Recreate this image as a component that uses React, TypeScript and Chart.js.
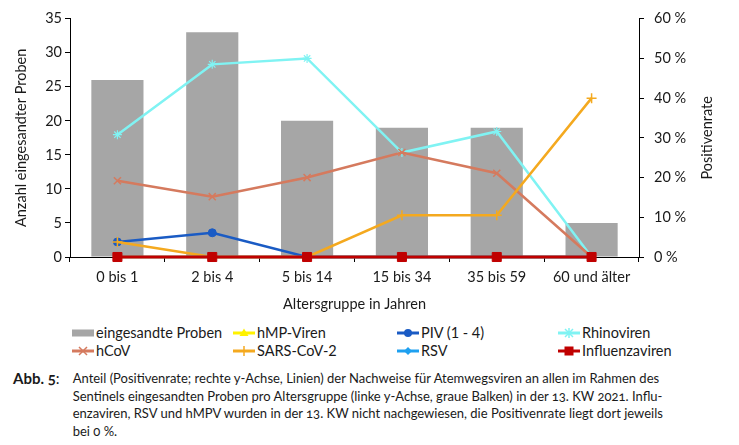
import React, { useEffect, useRef } from "react";
import { Chart, registerables } from "chart.js";

Chart.register(...registerables);

const categories = ["0 bis 1", "2 bis 4", "5 bis 14", "15 bis 34", "35 bis 59", "60 und älter"];
const probenCounts = [26, 33, 20, 19, 19, 5];
const hmpRate = [0, 0, 0, 0, 0, 0];
const pivRate = [3.8, 6.1, 0, 0, 0, 0];
const rhinoRate = [30.8, 48.5, 50, 26.3, 31.6, 0];
const hcovRate = [19.2, 15.2, 20, 26.3, 21.1, 0];
const sarsRate = [3.8, 0, 0, 10.5, 10.5, 40];
const rsvRate = [0, 0, 0, 0, 0, 0];
const influenzaRate = [0, 0, 0, 0, 0, 0];

const leftTicks = [0, 5, 10, 15, 20, 25, 30, 35];
const rightTicks = [0, 10, 20, 30, 40, 50, 60];

const leftTitle = "Anzahl eingesandter Proben";
const rightTitle = "Positivenrate";
const xTitle = "Altersgruppe in Jahren";

const captionLabel = "Abb. 5";
const captionLines = [
  "Anteil (Positivenrate; rechte y-Achse, Linien) der Nachweise für Atemwegsviren an allen im Rahmen des",
  "Sentinels eingesandten Proben pro Altersgruppe (linke y-Achse, graue Balken) in der 13. KW 2021. Influ-",
  "enzaviren, RSV und hMPV wurden in der 13. KW nicht nachgewiesen, die Positivenrate liegt dort jeweils",
  "bei 0 %.",
];

const C = {
  bar: "#A6A6A6",
  hmp: "#FFF200",
  piv: "#1A5BC4",
  rhino: "#80F3F3",
  hcov: "#D57A5E",
  sars: "#F4A91F",
  rsv: "#1EA0F0",
  flu: "#C00000",
};

const FONT = 'Lato, "Open Sans", sans-serif';

type LegendItem = { label: string; kind: string; color: string };
const legendRows: LegendItem[][] = [
  [
    { label: "eingesandte Proben", kind: "box", color: C.bar },
    { label: "hMP-Viren", kind: "triangle", color: C.hmp },
    { label: "PIV (1 - 4)", kind: "circle", color: C.piv },
    { label: "Rhinoviren", kind: "star", color: C.rhino },
  ],
  [
    { label: "hCoV", kind: "x", color: C.hcov },
    { label: "SARS-CoV-2", kind: "plus", color: C.sars },
    { label: "RSV", kind: "diamond", color: C.rsv },
    { label: "Influenzaviren", kind: "square", color: C.flu },
  ],
];

function Icon({ kind, color }: { kind: string; color: string }) {
  const w = 22, h = 12, cx = 11, cy = 6;
  let marker: React.ReactNode = null;
  if (kind === "box") {
    return (
      <svg width={w} height={h} style={{ display: "block" }}>
        <rect x={0} y={2.5} width={22} height={7} fill={color} />
      </svg>
    );
  }
  if (kind === "triangle") marker = <polygon points={`${cx},${cy - 4.5} ${cx + 4.5},${cy + 3} ${cx - 4.5},${cy + 3}`} fill={color} />;
  if (kind === "circle") marker = <circle cx={cx} cy={cy} r={4} fill={color} />;
  if (kind === "diamond") marker = <polygon points={`${cx},${cy - 4} ${cx + 4},${cy} ${cx},${cy + 4} ${cx - 4},${cy}`} fill={color} />;
  if (kind === "square") marker = <rect x={cx - 4.5} y={cy - 4.5} width={9} height={9} fill={color} />;
  if (kind === "x") marker = <path d={`M${cx - 4},${cy - 4}L${cx + 4},${cy + 4}M${cx + 4},${cy - 4}L${cx - 4},${cy + 4}`} stroke={color} strokeWidth={1.5} />;
  if (kind === "plus") marker = <path d={`M${cx},${cy - 5}L${cx},${cy + 5}`} stroke={color} strokeWidth={1.5} />;
  if (kind === "star") marker = <path d={`M${cx - 4},${cy - 4}L${cx + 4},${cy + 4}M${cx + 4},${cy - 4}L${cx - 4},${cy + 4}M${cx},${cy - 5}L${cx},${cy + 5}`} stroke={color} strokeWidth={1.5} />;
  return (
    <svg width={w} height={h} style={{ display: "block" }}>
      <line x1={0} y1={cy} x2={22} y2={cy} stroke={color} strokeWidth={3} />
      {marker}
    </svg>
  );
}

const rightTitlePlugin = {
  id: "rightTitle",
  afterDraw(chart: any) {
    const ctx = chart.ctx;
    ctx.save();
    ctx.translate(707, (chart.chartArea.top + chart.chartArea.bottom) / 2);
    ctx.rotate(-Math.PI / 2);
    ctx.font = `14.5px ${FONT}`;
    ctx.fillStyle = "#1a1a1a";
    ctx.textAlign = "center";
    ctx.textBaseline = "middle";
    ctx.fillText(rightTitle, 0, 0);
    ctx.restore();
  },
};

export default function App() {
  const ref = useRef<HTMLCanvasElement | null>(null);

  useEffect(() => {
    if (!ref.current) return;
    const lineDs = (label: string, data: number[], color: string, style: string, radius: number, order: number, bw = 1.5, lw = 2.5) => ({
      type: "line" as const,
      label,
      data,
      yAxisID: "y1",
      borderColor: color,
      backgroundColor: color,
      borderWidth: lw,
      pointStyle: style,
      pointRadius: radius,
      pointBorderWidth: bw,
      pointBorderColor: color,
      pointBackgroundColor: color,
      tension: 0,
      clip: false,
      order,
    });
    const chart = new Chart(ref.current, {
      data: {
        labels: categories,
        datasets: [
          {
            type: "bar",
            label: "eingesandte Proben",
            data: probenCounts,
            backgroundColor: C.bar,
            yAxisID: "y",
            categoryPercentage: 1,
            barPercentage: 0.55,
            order: 10,
          } as any,
          lineDs("hMP-Viren", hmpRate, C.hmp, "triangle", 4, 6, 1),
          lineDs("PIV (1 - 4)", pivRate, C.piv, "circle", 4, 5, 1),
          lineDs("Rhinoviren", rhinoRate, C.rhino, "star", 4.5, 4, 1.2),
          lineDs("hCoV", hcovRate, C.hcov, "crossRot", 5, 3),
          lineDs("SARS-CoV-2", sarsRate, C.sars, "cross", 5, 2),
          lineDs("RSV", rsvRate, C.rsv, "rectRot", 4, 1, 1),
          lineDs("Influenzaviren", influenzaRate, C.flu, "rect", 6.4, 0, 1, 3),
        ],
      },
      options: {
        animation: false,
        responsive: false,
        maintainAspectRatio: false,
        layout: { padding: { top: 12, left: 0, right: 0, bottom: 0 } },
        font: { family: FONT },
        plugins: { legend: { display: false }, tooltip: { enabled: false } },
        scales: {
          x: {
            offset: true,
            grid: { display: true, drawOnChartArea: false, drawTicks: true, tickLength: 5, color: "#000", offset: true },
            border: { color: "#000", width: 1 },
            ticks: { color: "#1a1a1a", font: { family: FONT, size: 14.5 }, padding: 7, maxRotation: 0 },
            title: { display: true, text: xTitle, color: "#1a1a1a", font: { family: FONT, size: 14.5 }, padding: { top: 0, bottom: 7 } },
            afterFit: (s: any) => { s.height = 63; },
          },
          y: {
            position: "left",
            min: 0,
            max: 35,
            afterBuildTicks: (s: any) => { s.ticks = leftTicks.map((v) => ({ value: v })); },
            grid: { display: true, drawOnChartArea: false, drawTicks: true, tickLength: 5, color: "#000" },
            border: { color: "#000", width: 1 },
            ticks: { color: "#1a1a1a", font: { family: FONT, size: 14.5 }, padding: 3 },
            title: { display: true, text: leftTitle, color: "#1a1a1a", font: { family: FONT, size: 14.5 }, padding: { top: 13, bottom: 0 } },
            afterFit: (s: any) => { s.width = 70; },
          },
          y1: {
            position: "right",
            min: 0,
            max: 60,
            afterBuildTicks: (s: any) => { s.ticks = rightTicks.map((v) => ({ value: v })); },
            grid: { display: true, drawOnChartArea: false, drawTicks: true, tickLength: 5, color: "#000" },
            border: { color: "#000", width: 1 },
            ticks: { color: "#1a1a1a", font: { family: FONT, size: 14.5 }, padding: 10, callback: (v: any) => `${v} %` },
            afterFit: (s: any) => { s.width = 100; },
          },
        },
      } as any,
      plugins: [rightTitlePlugin],
    });
    return () => chart.destroy();
  }, []);

  const colX = [72, 233, 397, 558];
  const rowY = [333, 351];

  return (
    <div style={{ position: "absolute", left: 0, top: 0, width: 739, height: 445, background: "#fff", fontFamily: FONT, overflow: "hidden" }}>
      <canvas ref={ref} width={739} height={320} style={{ position: "absolute", left: 0, top: 0, width: 739, height: 320 }} />
      {legendRows.map((row, ri) =>
        row.map((it, ci) => (
          <div key={`${ri}-${ci}`} style={{ position: "absolute", left: colX[ci], top: rowY[ri] - 9, height: 18, display: "flex", alignItems: "center", whiteSpace: "nowrap", fontSize: 14.5, color: "#1a1a1a" }}>
            <Icon kind={it.kind} color={it.color} />
            <span style={{ marginLeft: 2, lineHeight: "18px" }}>{it.label}</span>
          </div>
        ))
      )}
      <div style={{ position: "absolute", left: 13, top: 370, display: "flex", whiteSpace: "nowrap", fontSize: 13, lineHeight: "17.6px", color: "#1a1a1a", fontVariantNumeric: "oldstyle-nums", fontFeatureSettings: '"onum" 1' }}>
        <div style={{ width: 59.7, flex: "none", fontSize: 15, lineHeight: "17.6px" }}><b>{captionLabel}</b>:</div>
        <div>
          {captionLines.map((l, i) => (
            <div key={i}>{l}</div>
          ))}
        </div>
      </div>
    </div>
  );
}
